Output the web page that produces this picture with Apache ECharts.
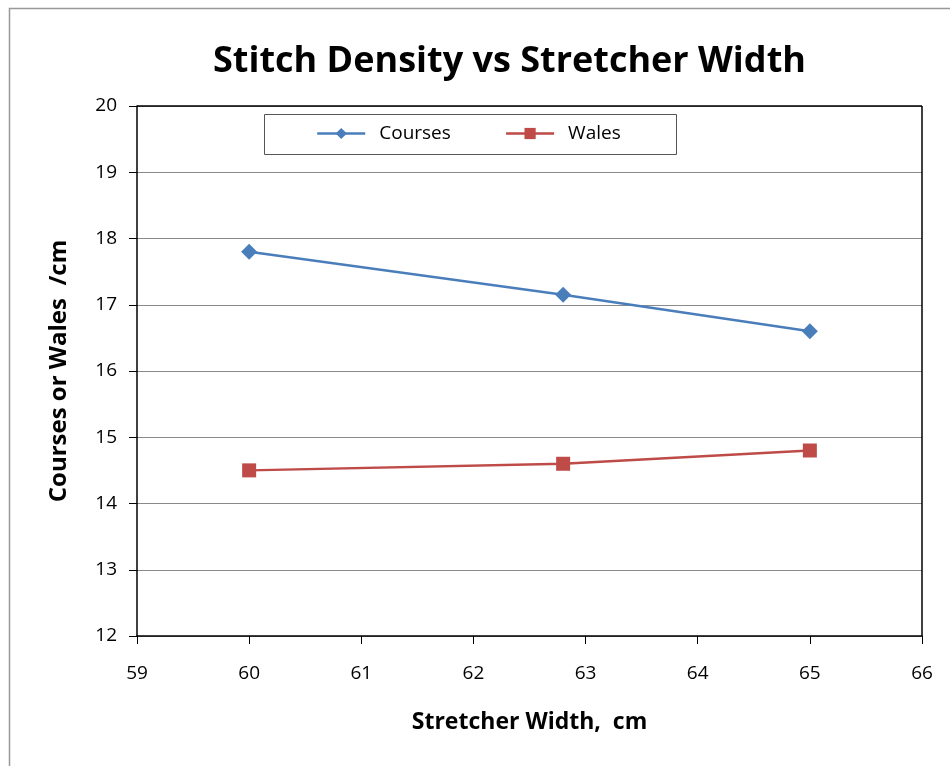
<!DOCTYPE html>
<html>
<head>
<meta charset="utf-8">
<script src="https://cdn.jsdelivr.net/npm/echarts@6/dist/echarts.min.js"></script>
<style>
html,body{margin:0;padding:0;background:#fff;}
#chart{width:950px;height:766px;}
</style>
</head>
<body>
<div id="chart"></div>
<script>
const widths = [60, 62.8, 65];
const courses = [17.8, 17.15, 16.6];
const wales = [14.5, 14.6, 14.8];
const seriesNames = ['Courses', 'Wales'];

const chart = echarts.init(document.getElementById('chart'));
const font = '"Open Sans", sans-serif';
chart.setOption({
  animation: false,
  backgroundColor: '#fff',
  title: {
    text: 'Stitch Density vs Stretcher Width',
    left: 208, top: 39,
    textStyle: { fontFamily: font, fontWeight: 'bold', fontSize: 36, color: '#000' }
  },
  graphic: [
    {
      type: 'rect', left: 7, top: 6, shape: { width: 960, height: 800 },
      style: { fill: 'none', stroke: '#999', lineWidth: 1.5 }, silent: true, z: -1
    },
    {
      type: 'rect', left: 264, top: 114, shape: { width: 412, height: 40 },
      style: { fill: '#fff', stroke: '#555', lineWidth: 1 }, silent: true, z: 5
    }
  ],
  legend: {
    left: 316, top: 124, padding: 0, z: 10,
    itemGap: 54, itemWidth: 48, itemHeight: 14,
    lineStyle: { width: 2.5 },
    textStyle: { fontFamily: font, fontSize: 19, color: '#000', padding: [0, 0, 0, 9] },
    data: seriesNames
  },
  grid: { left: 137, right: 28, top: 106, bottom: 130 },
  xAxis: {
    type: 'value', min: 59, max: 66, interval: 1,
    name: 'Stretcher Width,  cm', nameLocation: 'middle', nameGap: 75,
    nameTextStyle: { fontFamily: font, fontWeight: 'bold', fontSize: 23, color: '#000' },
    axisLine: { show: true, onZero: false, lineStyle: { color: '#000', width: 1.5 } },
    axisTick: { show: true, length: 8, lineStyle: { color: '#000' } },
    axisLabel: { margin: 28, fontFamily: font, fontSize: 19, color: '#000' },
    splitLine: { show: false }
  },
  yAxis: {
    type: 'value', min: 12, max: 20, interval: 1,
    name: 'Courses or Wales  /cm', nameLocation: 'middle', nameGap: 66,
    nameTextStyle: { fontFamily: font, fontWeight: 'bold', fontSize: 24, color: '#000' },
    axisLine: { show: true, onZero: false, lineStyle: { color: '#000', width: 1.5 } },
    axisTick: { show: true, length: 8, lineStyle: { color: '#000' } },
    axisLabel: { margin: 20, fontFamily: font, fontSize: 19, color: '#000' },
    splitLine: { show: true, lineStyle: { color: '#8a8a8a', width: 1.2 } }
  },
  series: [
    {
      name: seriesNames[0], type: 'line',
      data: widths.map((w, i) => [w, courses[i]]),
      symbol: 'diamond', symbolSize: 16,
      lineStyle: { color: '#4a7ebb', width: 2.5 },
      itemStyle: { color: '#4a7ebb' }
    },
    {
      name: seriesNames[1], type: 'line',
      data: widths.map((w, i) => [w, wales[i]]),
      symbol: 'rect', symbolSize: 14,
      lineStyle: { color: '#be4b48', width: 2.5 },
      itemStyle: { color: '#be4b48' }
    },
    {
      type: 'line', data: [], silent: true,
      markLine: {
        silent: true, symbol: 'none', label: { show: false },
        lineStyle: { color: '#000', width: 1.5, type: 'solid' },
        data: [
          [{ coord: [59, 20] }, { coord: [66, 20] }],
          [{ coord: [66, 20] }, { coord: [66, 12] }]
        ]
      }
    }
  ]
});
</script>
</body>
</html>
